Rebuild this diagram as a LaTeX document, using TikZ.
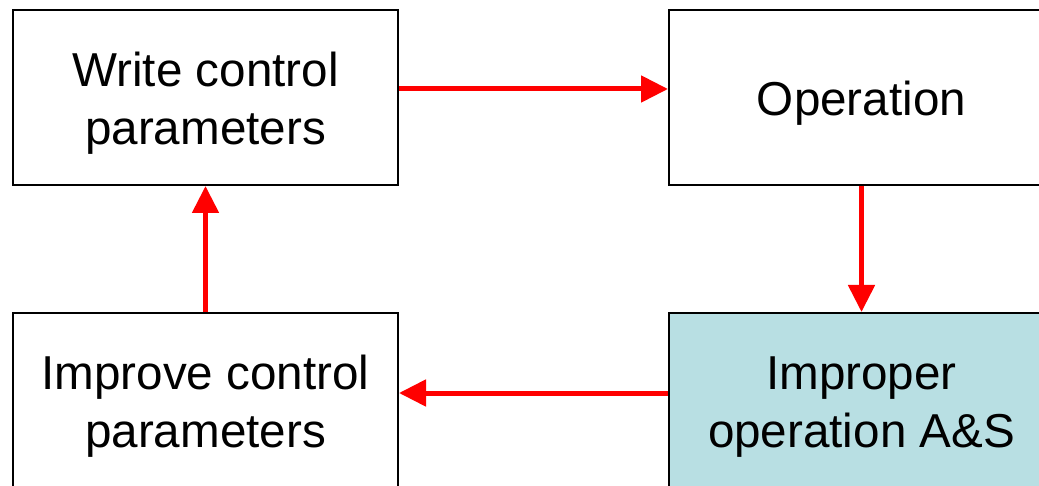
\documentclass[tikz,border=0pt]{standalone}
\usepackage{fontspec}
\setmainfont{Liberation Sans}
\usepackage{tikz}
\usetikzlibrary{arrows.meta}
\definecolor{paleteal}{RGB}{184,223,227}
\definecolor{flowred}{RGB}{255,0,0}
\newcommand{\boxtext}[1]{\raisebox{-3.25pt}[\height][\depth]{\begin{tabular}{@{}c@{}}#1\end{tabular}}}
\tikzstyle{block}=[draw, line width=1pt, minimum width=192.5pt, minimum height=87.5pt,
  align=center, font=\fontsize{23.8}{29}\selectfont]
\tikzstyle{flow}=[flowred, line width=2.5pt, -{Triangle[length=13.5pt,width=13pt]}]

\begin{document}
\begin{tikzpicture}[x=0.5pt, y=-0.5pt]
        \useasboundingbox (0,0) rectangle (1039,486);
        \clip (0,0) rectangle (1039,486);
        \node[block] (write) at (205.5,97.5) {\boxtext{Write control\\parameters}};
        \node[block] (oper) at (861.5,97.5) {\boxtext{Operation}};
        \node[block, fill=paleteal] (improper) at (861.5,400.5) {\boxtext{Improper\\operation A\&S}};
        \node[block] (improve) at (205.5,400.5) {\boxtext{Improve control\\parameters}};
        \draw[flow] ([yshift=4.25pt]write.east) -- ([yshift=4.25pt]oper.west);
        \draw[flow] (oper.south) -- (improper.north);
        \draw[flow] ([yshift=3.75pt]improper.west) -- ([yshift=3.75pt]improve.east);
        \draw[flow] (improve.north) -- (write.south);
\end{tikzpicture}
\end{document}
